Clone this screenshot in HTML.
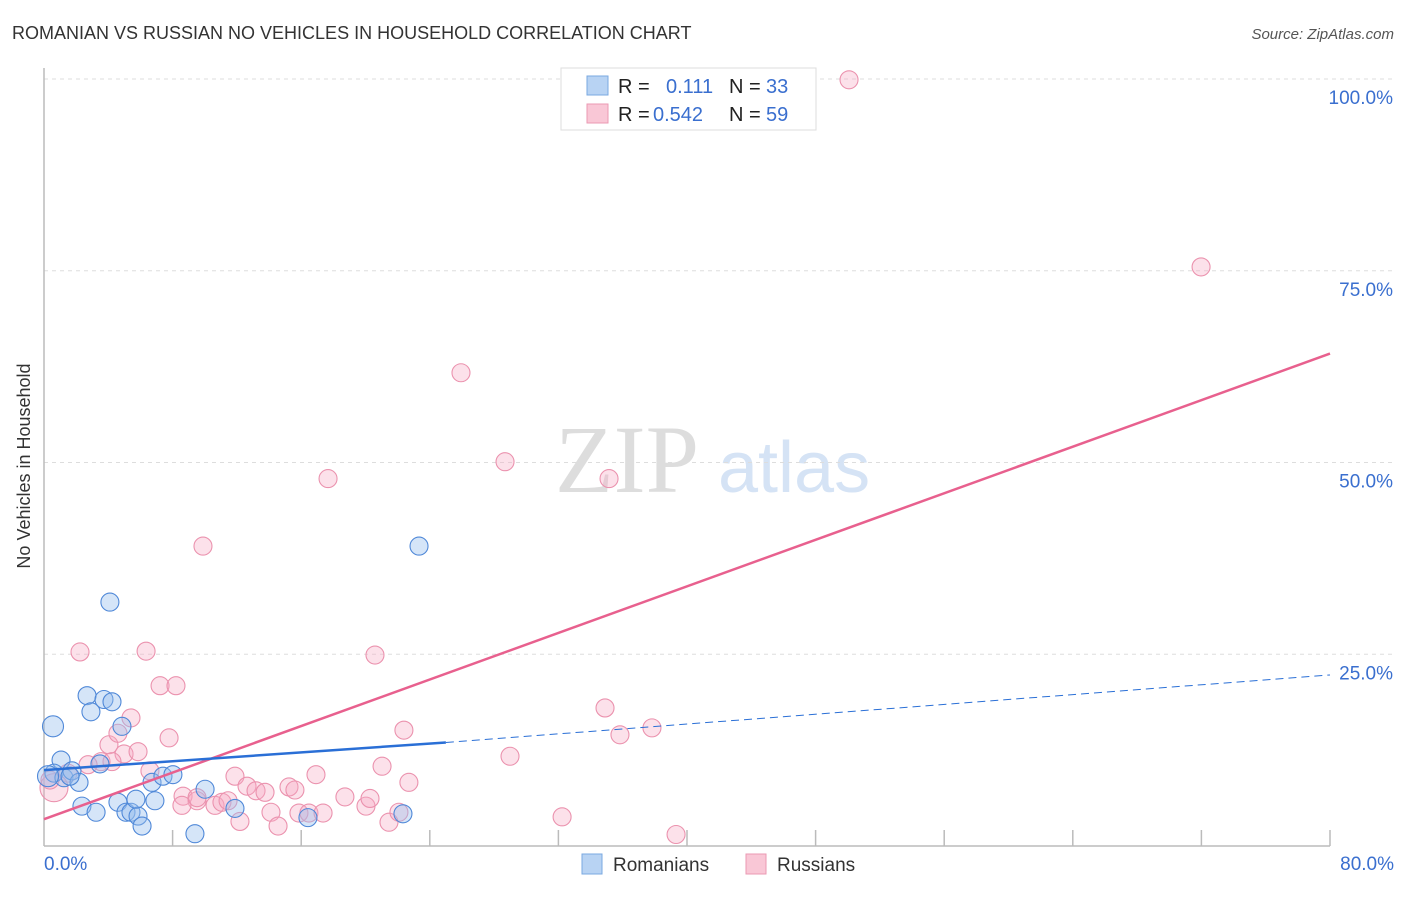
<!DOCTYPE html>
<html><head><meta charset="utf-8"><style>
body{margin:0;background:#fff;font-family:"Liberation Sans",sans-serif;}
</style></head><body>
<svg width="1406" height="892" xmlns="http://www.w3.org/2000/svg" font-family="Liberation Sans, sans-serif">
<text x="12" y="39" font-size="18" fill="#333">ROMANIAN VS RUSSIAN NO VEHICLES IN HOUSEHOLD CORRELATION CHART</text>
<text x="1394" y="39" font-size="15" fill="#555" font-style="italic" text-anchor="end">Source: ZipAtlas.com</text>
<g>
<text x="555" y="492" font-size="96" fill="#ddd" font-family="Liberation Serif, serif">ZIP</text>
<text x="718" y="492" font-size="72" fill="#d5e3f5">atlas</text>
</g>
<g id="grid"></g>
<line x1="44" y1="68" x2="44" y2="846" stroke="#bbb" stroke-width="1.5"/>
<line x1="44" y1="846" x2="1330" y2="846" stroke="#bbb" stroke-width="1.5"/>
<g id="ticks"></g>
<text x="20" y="456" font-size="18" fill="#333" transform="rotate(-90 30 456)" text-anchor="middle">No Vehicles in Household</text>
<g id="pts"></g>
<g id="lines"></g>
<g>
<rect x="561" y="68" width="255" height="62" fill="#fff" stroke="#ddd"/>
<rect x="587" y="76" width="21" height="19" fill="#b8d3f3" stroke="#7aa8e0"/>
<rect x="587" y="104" width="21" height="19" fill="#f9c7d6" stroke="#eb9ab3"/>
<text x="618" y="93" font-size="20" fill="#222">R =</text>
<text x="666" y="93" font-size="20" fill="#3a6fcf">0.111</text>
<text x="729" y="93" font-size="20" fill="#222">N =</text>
<text x="766" y="93" font-size="20" fill="#3a6fcf">33</text>
<text x="618" y="121" font-size="20" fill="#222">R =</text>
<text x="653" y="121" font-size="20" fill="#3a6fcf">0.542</text>
<text x="729" y="121" font-size="20" fill="#222">N =</text>
<text x="766" y="121" font-size="20" fill="#3a6fcf">59</text>
</g>
<g>
<rect x="582" y="854" width="20" height="20" fill="#b8d3f3" stroke="#7aa8e0"/>
<text x="613" y="871" font-size="19" fill="#333">Romanians</text>
<rect x="746" y="854" width="20" height="20" fill="#f9c7d6" stroke="#eb9ab3"/>
<text x="777" y="871" font-size="19" fill="#333">Russians</text>
</g>
<text x="44" y="870" font-size="19" fill="#3a6fcf">0.0%</text>
<text x="1394" y="870" font-size="19" fill="#3a6fcf" text-anchor="end">80.0%</text>
</svg>
<script>
const yTicks=[100,75,50,25];
const yTickLabels=["100.0%","75.0%","50.0%","25.0%"];
const romX=[0.56,1.06,0.62,1.24,1.74,2.18,1.62,2.36,3.24,2.68,2.92,3.73,4.23,4.1,4.85,3.48,4.6,5.1,5.41,5.85,6.1,5.72,6.9,6.72,7.4,8.02,10.02,9.39,11.88,16.42,22.33,23.33,0.25];
const romY=[15.6,11.2,9.5,8.9,9.8,8.3,9.1,5.2,4.4,19.6,17.5,19.1,18.8,31.8,15.6,10.7,5.7,4.4,4.4,3.9,2.6,6.1,5.9,8.3,9.1,9.3,7.4,1.6,4.9,3.7,4.2,39.1,9.1];
const rusX=[50.08,71.98,25.94,28.68,35.15,17.67,9.89,2.24,6.35,20.59,7.22,8.21,5.41,4.04,4.6,4.98,5.85,3.55,2.74,1.49,7.78,22.39,28.99,34.9,35.83,37.82,8.65,9.52,8.58,10.64,11.07,11.45,11.88,12.19,12.63,13.19,13.75,14.12,14.56,15.24,15.61,15.86,16.48,16.92,17.36,18.72,20.03,20.28,21.03,21.46,22.08,22.7,32.23,39.32,0.62,0.37,4.23,6.59,9.52];
const rusY=[99.9,75.5,61.7,50.1,47.9,47.9,39.1,25.3,25.4,24.9,20.9,20.9,16.7,13.2,14.7,12.0,12.3,11.0,10.6,9.5,14.1,15.1,11.7,18.0,14.5,15.4,6.5,5.9,5.3,5.3,5.7,5.9,9.1,3.2,7.8,7.2,7.0,4.4,2.6,7.7,7.3,4.3,4.3,9.3,4.3,6.4,5.2,6.2,10.4,3.1,4.4,8.3,3.8,1.5,7.6,8.6,11.0,9.8,6.3];
const romLine=[0,9.9,25,13.5,80,22.3];
const rusLine=[0,3.5,80,64.2];
const X0=44,X1=1330,Y0=846,Y100=79;
const sx=v=>X0+(X1-X0)*v/80, sy=v=>Y0-(Y0-Y100)*v/100;
const NS="http://www.w3.org/2000/svg";
function mk(t,a,p){const e=document.createElementNS(NS,t);for(const k in a)e.setAttribute(k,a[k]);p.appendChild(e);return e;}
const grid=document.getElementById('grid');
yTicks.forEach((t,i)=>{
 const l=mk('line',{x1:44,x2:1394,y1:sy(t),y2:sy(t),stroke:'#ddd','stroke-dasharray':'4,4'},grid);
 
 
 const tx=mk('text',{x:1393,y:sy(t)+25,'font-size':19,fill:'#3a6fcf','text-anchor':'end'},grid);
 tx.textContent=yTickLabels[i];
 
 
});
const ticks=document.getElementById('ticks');
for(let i=1;i<=10;i++){
 const l=mk('line',{x1:sx(i*8),x2:sx(i*8),y1:830,y2:846,stroke:'#bbb','stroke-width':1.5},ticks);
 
 
}
const pts=document.getElementById('pts');
rusX.forEach((x,i)=>{
 const c=mk('circle',{cx:sx(x),cy:sy(rusY[i]),r:(i==54?14:9),fill:'rgba(246,170,194,0.35)',stroke:'#eb92ae','stroke-width':1.1},pts);
 
 
});
romX.forEach((x,i)=>{
 const c=mk('circle',{cx:sx(x),cy:sy(romY[i]),r:(i==0||i==32?10.5:9),fill:'rgba(150,190,238,0.4)',stroke:'#4f88d8','stroke-width':1.1},pts);
 
 
});
const lines=document.getElementById('lines');
let l=mk('line',{x1:sx(rusLine[0]),y1:sy(rusLine[1]),x2:sx(rusLine[2]),y2:sy(rusLine[3]),stroke:'#e8608e','stroke-width':2.5},lines);


l=mk('line',{x1:sx(romLine[0]),y1:sy(romLine[1]),x2:sx(romLine[2]),y2:sy(romLine[3]),stroke:'#2a6fd6','stroke-width':2.5},lines);


l=mk('line',{x1:sx(romLine[2]),y1:sy(romLine[3]),x2:sx(romLine[4]),y2:sy(romLine[5]),stroke:'#2a6fd6','stroke-width':1,'stroke-dasharray':'8,5'},lines);


</script>
</body></html>
